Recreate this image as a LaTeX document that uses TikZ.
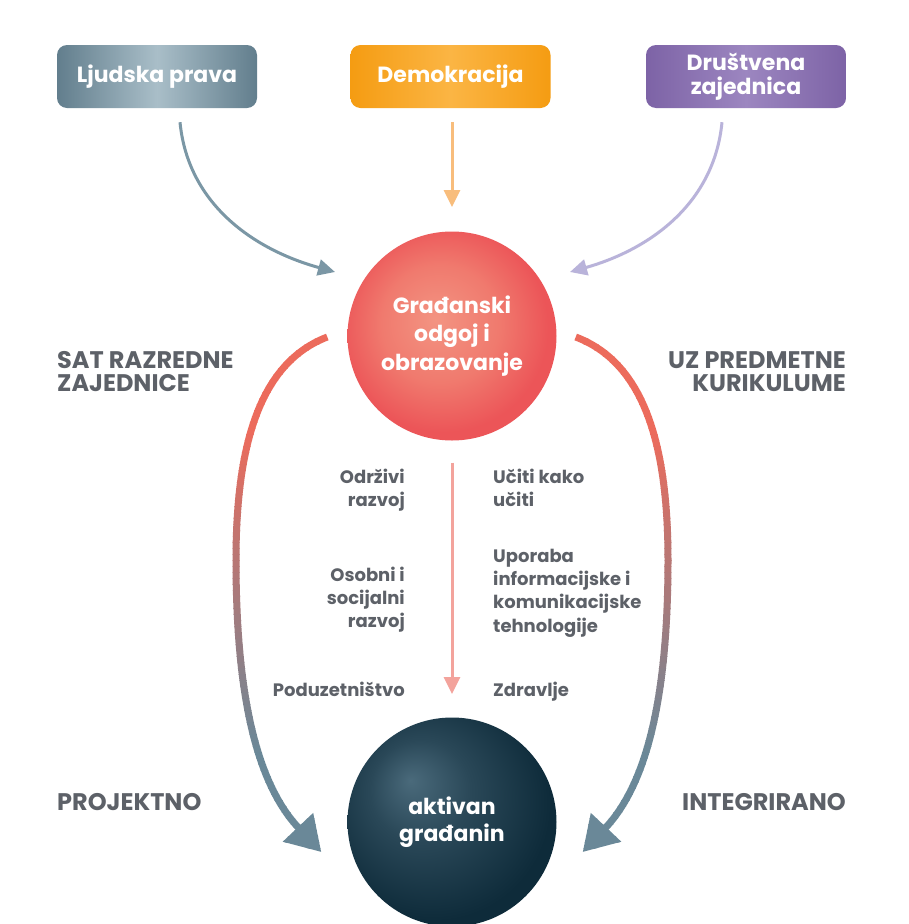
\documentclass[tikz,border=0pt]{standalone}
\usepackage{fontspec}
\setmainfont{Poppins}
\usetikzlibrary{arrows.meta,calc}
\definecolor{txtgray}{HTML}{5D6168}
\definecolor{ljA}{HTML}{627E8D}
\definecolor{ljB}{HTML}{A9BEC8}
\definecolor{deA}{HTML}{F59C12}
\definecolor{deB}{HTML}{FBB544}
\definecolor{drA}{HTML}{7D63A6}
\definecolor{drB}{HTML}{9C86C0}
\definecolor{arLj}{HTML}{7B97A5}
\definecolor{arDe}{HTML}{F8BD7C}
\definecolor{arDr}{HTML}{B9B3DA}
\definecolor{arMid}{HTML}{F3A39C}
\definecolor{bigRed}{HTML}{EC6B5C}
\definecolor{bigBlue}{HTML}{6A8898}
\definecolor{rb1}{HTML}{F39482}
\definecolor{rb2}{HTML}{F07A6E}
\definecolor{rb3}{HTML}{EC5558}
\definecolor{dk1}{HTML}{4A6A7B}
\definecolor{dk2}{HTML}{2A4858}
\definecolor{dk3}{HTML}{0E2B3A}
\pgfdeclareradialshading{redball}{\pgfpoint{-4bp}{4bp}}{color(0bp)=(rb1); color(14bp)=(rb2); color(25bp)=(rb3); color(50bp)=(rb3)}
\pgfdeclareradialshading{darkball}{\pgfpoint{-10bp}{10bp}}{color(0bp)=(dk1); color(12bp)=(dk2); color(28bp)=(dk3); color(50bp)=(dk3)}
\begin{document}
\begin{tikzpicture}[x=1pt,y=-1pt,
  box/.style={rounded corners=10pt, minimum width=200pt, minimum height=63pt, inner sep=0pt, text=white, font=\bfseries\fontsize{22}{24}\selectfont, align=center},
  lbl/.style={text=txtgray, font=\bfseries\fontsize{18}{23.4}\selectfont, inner sep=0pt},
  sec/.style={text=txtgray, font=\bfseries\fontsize{24}{23}\selectfont, inner sep=0pt},
  ball/.style={circle, minimum size=209pt, inner sep=0pt, text=white, align=center},
  thinarrow/.style={line width=3pt, -{Triangle[length=17pt,width=16pt]}},
  bigarrow/.style={line width=7pt, -{Triangle[length=34pt,width=40pt]}},
]
\useasboundingbox (0,0) rectangle (908,924);
\fill[white] (0,0) rectangle (908,924);

% top boxes
\node[box, left color=ljA, right color=ljA, middle color=ljB] (lj) at (157,76.5) {Ljudska prava};
\node[box, left color=deA, right color=deA, middle color=deB] (de) at (450.5,76.5) {Demokracija};
\node[box, left color=drA, right color=drA, middle color=drB] (dr) at (746,76.5) {Društvena\\zajednica};

% circles
\node[ball, shading=redball, font=\bfseries\fontsize{22}{28.5}\selectfont] (g) at (452,336) {Građanski\\odgoj i\\obrazovanje};
\node[ball, shading=darkball, font=\bfseries\fontsize{22}{27}\selectfont] (a) at (452,822) {aktivan\\građanin};

% arrow end coordinates
\coordinate (ljend) at ($(g.center)+(-117,-64)$);
\coordinate (deend) at ($(g.center)+(0,-129)$);
\coordinate (drend) at ($(g.center)+(118,-64)$);
\coordinate (midend) at ($(a.center)+(0,-128)$);

% top arrows
\draw[thinarrow, arLj] ($(lj.south)+(23,14)$) .. controls (188,205) and (255,250) .. (ljend);
\draw[thinarrow, arDe] ($(de.south)+(1.5,14)$) -- (deend);
\draw[thinarrow, arDr] ($(dr.south)+(-24,14)$) .. controls (714,205) and (648,250) .. (drend);

% middle arrow
\draw[thinarrow, arMid] ($(g.south)+(0,22)$) -- (midend);

% big side arrows, colour changing from top to bottom
\foreach \yy in {326,332,...,876}{
  \pgfmathsetmacro{\tt}{max(0,min(100,(\yy-430)/3.2))}
  \begin{scope}
    \clip (0,\yy) rectangle (908,\yy+6.6);
    \draw[bigarrow, draw=bigBlue!\tt!bigRed]
      ($(g.west)+(-20,1)$) .. controls (262,362) and (236,440) .. (236,560)
      .. controls (236,700) and (258,785) .. ($(a.west)+(-26,30)$);
    \draw[bigarrow, draw=bigBlue!\tt!bigRed]
      ($(g.east)+(19,1)$) .. controls (642,362) and (668,440) .. (668,560)
      .. controls (668,700) and (646,785) .. ($(a.east)+(26,30)$);
  \end{scope}
}

% section labels
\node[sec, anchor=north west, align=left] (sat) at (57,351.5) {SAT RAZREDNE\\ZAJEDNICE};
\node[sec, anchor=north east, align=right] (uz) at (846,351.5) {UZ PREDMETNE\\KURIKULUME};
\node[sec, anchor=north west] (pro) at (57,793.5) {PROJEKTNO};
\node[sec, anchor=north east] (int) at (846,793.5) {INTEGRIRANO};

% topic labels
\node[lbl, anchor=north east, align=right] (odr) at (405,468.5) {Održivi\\razvoj};
\node[lbl, anchor=north east, align=right] (oso) at (405,566.5) {Osobni i\\socijalni\\razvoj};
\node[lbl, anchor=north east] (pod) at (405,681.5) {Poduzetništvo};
\node[lbl, anchor=north west, align=left] (uci) at (493,468.5) {Učiti kako\\učiti};
\node[lbl, anchor=north west, align=left] (upo) at (493,548.5) {Uporaba\\informacijske i\\komunikacijske\\tehnologije};
\node[lbl, anchor=north west] (zdr) at (493,681.5) {Zdravlje};
\end{tikzpicture}
\end{document}
